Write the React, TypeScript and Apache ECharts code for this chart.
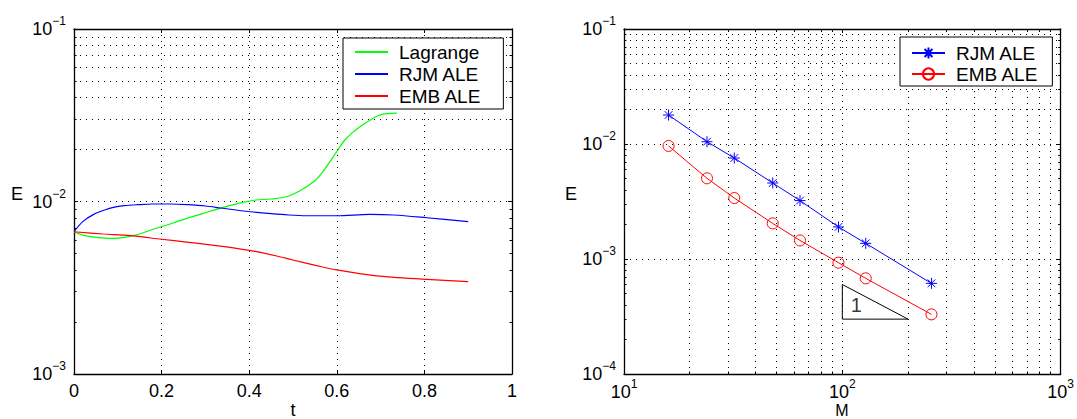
import React, { useEffect, useRef } from 'react';
import * as echarts from 'echarts';

// ---------- Left panel: E(t) ----------
const tLagrange = [0, 0.02, 0.045, 0.07, 0.09, 0.115, 0.135, 0.158, 0.18, 0.205, 0.235, 0.265, 0.295, 0.325, 0.355, 0.385, 0.415, 0.45, 0.485, 0.515, 0.55, 0.57, 0.6, 0.617, 0.635, 0.656, 0.675, 0.695, 0.715, 0.737];
const eLagrange = [0.00668, 0.00639, 0.00622, 0.00614, 0.00612, 0.0062, 0.00634, 0.00659, 0.0069, 0.00721, 0.00764, 0.00809, 0.00853, 0.00901, 0.00946, 0.00989, 0.0102, 0.01034, 0.01066, 0.0115, 0.0132, 0.0151, 0.0195, 0.0225, 0.025, 0.0275, 0.0295, 0.0315, 0.0323, 0.0325];

const tRjm = [0, 0.02, 0.045, 0.07, 0.09, 0.115, 0.145, 0.18, 0.22, 0.26, 0.3, 0.335, 0.37, 0.41, 0.45, 0.49, 0.53, 0.6, 0.675, 0.73, 0.805, 0.9];
const eRjmT = [0.00668, 0.00764, 0.00842, 0.00893, 0.00925, 0.00946, 0.00958, 0.00967, 0.00967, 0.00958, 0.00942, 0.00917, 0.00893, 0.00869, 0.0085, 0.00835, 0.00827, 0.00827, 0.00842, 0.00835, 0.00805, 0.00764];

const tEmb = [0, 0.067, 0.128, 0.2, 0.257, 0.32, 0.371, 0.417, 0.463, 0.5, 0.554, 0.6, 0.691, 0.805, 0.9];
const eEmbT = [0.00668, 0.00648, 0.00634, 0.00604, 0.00582, 0.00557, 0.00535, 0.00512, 0.00483, 0.00458, 0.00425, 0.00401, 0.00371, 0.00354, 0.00343];

const leftLegend = ['Lagrange', 'RJM ALE', 'EMB ALE'];
const leftXMin = 0;
const leftXMax = 1;
const leftXStep = 0.2;
const leftYExp = [-3, -2, -1];

// ---------- Right panel: E(M) ----------
const mValues = [16, 24, 32, 48, 64, 96, 128, 256];
const eRjmM = [0.01786, 0.01047, 0.00755, 0.00458, 0.00322, 0.0019, 0.001368, 0.000614];
const eEmbM = [0.00962, 0.00503, 0.00339, 0.00204, 0.00145, 0.000929, 0.000679, 0.00033];
const slopeTriangle = [[100, 6e-4], [100, 3e-4], [200, 3e-4], [100, 6e-4]];
const slopeLabelPos = [116, 4e-4];
const slopeLabelText = '1';

const rightLegend = ['RJM ALE', 'EMB ALE'];
const rightXExp = [1, 2, 3];
const rightYExp = [-4, -3, -2, -1];

// right-panel series carry a trailing space so that each legend picks its own series
const rightName = (n: string) => n + ' ';

const FONT = '"Liberation Sans", Arial, Helvetica, sans-serif';
const GRID_DOT: any = { color: '#000', width: 1, type: [1, 5] };
const TICK_LINE: any = { color: '#000', width: 1, type: 'solid' };
const STAR = 'path://M10 0L10 20M0 10L20 10M3 3L17 17M3 17L17 3';
const CLEAR = 'rgba(0,0,0,0)';

// plot sizes in px (used only for converting the minor tick length into axis units)
const PLOT_W = 438;
const PLOT_H = 345;
const MINOR_TICK_PX = 2.5;

function powLabel(v: number) {
  const e = Math.round(Math.log10(v));
  const s = e < 0 ? '\u2212' + Math.abs(e) : String(e);
  return `{b|10}{s|${s}}`;
}
const rich = {
  b: { fontSize: 18, fontFamily: FONT, color: '#000' },
  s: { fontSize: 12, fontFamily: FONT, color: '#000', padding: [0, 0, 16, 0] },
};

function minorValues(lo: number, hi: number) {
  const out: number[] = [];
  for (let e = lo; e < hi; e++) for (let k = 2; k <= 9; k++) out.push(+(k * Math.pow(10, e)).toPrecision(6));
  return out;
}
function zip(xs: number[], ys: number[]) {
  return xs.map((x, i) => [x, ys[i]]);
}
const seg = (a: number[], b: number[]) => [{ coord: a, lineStyle: TICK_LINE }, { coord: b }];

const axisLine = { show: true, onZero: false, lineStyle: { color: '#000', width: 1.3 } };
const tickIn = { show: true, inside: true, length: 4, lineStyle: { color: '#000' } };

function buildOption(): any {
  const lyMin = Math.pow(10, leftYExp[0]);
  const lyMax = Math.pow(10, leftYExp[leftYExp.length - 1]);
  const rxMin = Math.pow(10, rightXExp[0]);
  const rxMax = Math.pow(10, rightXExp[rightXExp.length - 1]);
  const ryMin = Math.pow(10, rightYExp[0]);
  const ryMax = Math.pow(10, rightYExp[rightYExp.length - 1]);

  const leftMinorY = minorValues(leftYExp[0], leftYExp[leftYExp.length - 1]);
  const rightMinorY = minorValues(rightYExp[0], rightYExp[rightYExp.length - 1]);
  const rightMinorX = minorValues(rightXExp[0], rightXExp[rightXExp.length - 1]);

  // tick length expressed in axis units
  const lDx = ((leftXMax - leftXMin) * MINOR_TICK_PX) / PLOT_W;
  const rFx = Math.pow(10, ((rightXExp[rightXExp.length - 1] - rightXExp[0]) * MINOR_TICK_PX) / PLOT_W);
  const rFy = Math.pow(10, ((rightYExp[rightYExp.length - 1] - rightYExp[0]) * MINOR_TICK_PX) / PLOT_H);

  const markBase = {
    silent: true,
    symbol: ['none', 'none'],
    label: { show: false },
    emphasis: { disabled: true },
    animation: false,
    z: 1,
    lineStyle: GRID_DOT,
  };
  const legendText = { fontSize: 19, fontFamily: FONT, color: '#000', lineHeight: 20, padding: [0, 0, 0, 6] };
  const nameStyle = (text: string, x: number, y: number, va: string, size = 18) => ({
    type: 'text', x, y,
    style: { text, font: `${size}px ${FONT}`, fill: '#000', textAlign: 'center', textVerticalAlign: va },
  });

  return {
    animation: false,
    textStyle: { fontFamily: FONT },
    grid: [
      { left: 74, top: 29, width: 438, height: 345 },
      { left: 624, top: 29, width: 437, height: 345 },
    ],
    xAxis: [
      {
        gridIndex: 0, type: 'value', min: leftXMin, max: leftXMax, interval: leftXStep, position: 'bottom',
        axisLine, axisTick: tickIn,
        axisLabel: { color: '#000', fontSize: 18, fontFamily: FONT, margin: 8, lineHeight: 18 },
        splitLine: { show: true, lineStyle: GRID_DOT },
      },
      {
        gridIndex: 0, type: 'value', min: leftXMin, max: leftXMax, interval: leftXStep, position: 'top',
        axisLine, axisTick: tickIn, axisLabel: { show: false }, splitLine: { show: false },
      },
      {
        gridIndex: 1, type: 'log', logBase: 10, min: rxMin, max: rxMax, position: 'bottom',
        axisLine, axisTick: tickIn,
        axisLabel: { formatter: powLabel, rich, margin: 4 },
        splitLine: { show: true, lineStyle: GRID_DOT },
      },
      {
        gridIndex: 1, type: 'log', logBase: 10, min: rxMin, max: rxMax, position: 'top',
        axisLine, axisTick: tickIn, axisLabel: { show: false }, splitLine: { show: false },
      },
    ],
    yAxis: [
      {
        gridIndex: 0, type: 'log', logBase: 10, min: lyMin, max: lyMax, position: 'left',
        axisLine, axisTick: tickIn,
        axisLabel: { formatter: powLabel, rich, margin: 8 },
        splitLine: { show: true, lineStyle: GRID_DOT },
      },
      {
        gridIndex: 0, type: 'log', logBase: 10, min: lyMin, max: lyMax, position: 'right',
        axisLine, axisTick: tickIn, axisLabel: { show: false }, splitLine: { show: false },
      },
      {
        gridIndex: 1, type: 'log', logBase: 10, min: ryMin, max: ryMax, position: 'left',
        axisLine, axisTick: tickIn,
        axisLabel: { formatter: powLabel, rich, margin: 8 },
        splitLine: { show: true, lineStyle: GRID_DOT },
      },
      {
        gridIndex: 1, type: 'log', logBase: 10, min: ryMin, max: ryMax, position: 'right',
        axisLine, axisTick: tickIn, axisLabel: { show: false }, splitLine: { show: false },
      },
    ],
    legend: [
      {
        data: leftLegend, orient: 'vertical', left: 343, top: 38,
        backgroundColor: '#fff', borderColor: '#000', borderWidth: 1,
        padding: [4, 22, 3, 11], itemWidth: 33, itemHeight: 14, itemGap: 2,
        textStyle: legendText,
        selectedMode: false,
      },
      {
        data: rightLegend.map(rightName), orient: 'vertical', left: 900, top: 37,
        backgroundColor: '#fff', borderColor: '#000', borderWidth: 1,
        padding: [6, 14, 2, 11], itemWidth: 33, itemHeight: 14, itemGap: 1,
        textStyle: legendText,
        formatter: (n: string) => n.trim(),
        selectedMode: false,
      },
    ],
    graphic: [
      nameStyle('E', 17, 194, 'middle'),
      nameStyle('E', 571, 194, 'middle'),
      nameStyle('t', 293, 401, 'top'),
      nameStyle('M', 842, 402.5, 'top', 16),
    ],
    series: [
      // dotted minor grid + minor edge ticks (left)
      {
        type: 'line', xAxisIndex: 0, yAxisIndex: 0, data: [], silent: true,
        markLine: {
          ...markBase,
          data: [
            ...leftMinorY.map((v) => ({ yAxis: v })),
            ...leftMinorY.map((v) => seg([leftXMin, v], [leftXMin + lDx, v])),
            ...leftMinorY.map((v) => seg([leftXMax - lDx, v], [leftXMax, v])),
          ],
        },
      },
      // dotted minor grid + minor edge ticks (right)
      {
        type: 'line', xAxisIndex: 2, yAxisIndex: 2, data: [], silent: true,
        markLine: {
          ...markBase,
          data: [
            ...rightMinorY.map((v) => ({ yAxis: v })),
            ...rightMinorX.map((v) => ({ xAxis: v })),
            ...rightMinorY.map((v) => seg([rxMin, v], [rxMin * rFx, v])),
            ...rightMinorY.map((v) => seg([rxMax / rFx, v], [rxMax, v])),
            ...rightMinorX.map((v) => seg([v, ryMin], [v, ryMin * rFy])),
            ...rightMinorX.map((v) => seg([v, ryMax / rFy], [v, ryMax])),
          ],
        },
      },
      {
        name: 'Lagrange', type: 'line', xAxisIndex: 0, yAxisIndex: 0, data: zip(tLagrange, eLagrange),
        symbol: 'none', smooth: 0.3, lineStyle: { color: '#00ff00', width: 1.2 }, itemStyle: { color: CLEAR, borderWidth: 0 }, z: 3,
      },
      {
        name: 'RJM ALE', type: 'line', xAxisIndex: 0, yAxisIndex: 0, data: zip(tRjm, eRjmT),
        symbol: 'none', smooth: 0.3, lineStyle: { color: '#0000ff', width: 1.2 }, itemStyle: { color: CLEAR, borderWidth: 0 }, z: 3,
      },
      {
        name: 'EMB ALE', type: 'line', xAxisIndex: 0, yAxisIndex: 0, data: zip(tEmb, eEmbT),
        symbol: 'none', smooth: 0.3, lineStyle: { color: '#ff0000', width: 1.2 }, itemStyle: { color: CLEAR, borderWidth: 0 }, z: 3,
      },
      {
        name: rightName('RJM ALE'), type: 'line', xAxisIndex: 2, yAxisIndex: 2, data: zip(mValues, eRjmM),
        symbol: STAR, symbolSize: 11, showSymbol: true,
        lineStyle: { color: '#0000ff', width: 1 },
        itemStyle: { color: '#0000ff', borderColor: '#0000ff', borderWidth: 1 }, z: 3,
      },
      {
        name: rightName('EMB ALE'), type: 'line', xAxisIndex: 2, yAxisIndex: 2, data: zip(mValues, eEmbM),
        symbol: 'circle', symbolSize: 11, showSymbol: true,
        lineStyle: { color: '#ff0000', width: 1 },
        itemStyle: { color: CLEAR, borderColor: '#ff0000', borderWidth: 1 }, z: 3,
      },
      {
        type: 'line', xAxisIndex: 2, yAxisIndex: 2, data: slopeTriangle, symbol: 'none', silent: true,
        lineStyle: { color: '#000', width: 1 }, z: 3,
      },
      {
        type: 'scatter', xAxisIndex: 2, yAxisIndex: 2, data: [slopeLabelPos], symbolSize: 1, silent: true,
        itemStyle: { color: CLEAR },
        label: { show: true, formatter: slopeLabelText, position: 'inside', fontSize: 20, fontFamily: FONT, color: '#000' }, z: 3,
      },
    ],
  };
}

export default function App() {
  const ref = useRef<HTMLDivElement>(null);
  useEffect(() => {
    if (!ref.current) return;
    const chart = echarts.init(ref.current, undefined, { renderer: 'svg' });
    chart.setOption(buildOption());
    return () => chart.dispose();
  }, []);
  return (
    <div
      ref={ref}
      style={{ position: 'absolute', left: 0, top: 0, width: 1077, height: 419, background: '#fff' }}
    />
  );
}
